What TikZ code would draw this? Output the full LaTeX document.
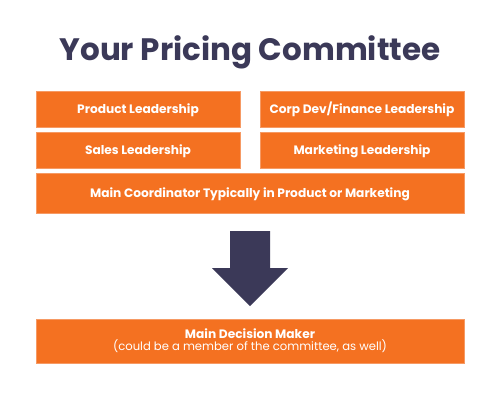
\documentclass[tikz,border=0pt]{standalone}
\usepackage{fontspec}
\setmainfont{Poppins}
\definecolor{orng}{HTML}{F47121}
\definecolor{orngline}{HTML}{F69A64}
\definecolor{navy}{HTML}{3B3958}
\begin{document}
\begin{tikzpicture}[x=1pt,y=-1pt,
  obox/.style={fill=orng,draw=orngline,line width=0.6pt,text=white,font=\fontsize{12.2}{14}\selectfont\bfseries},
  oline/.style={obox,text height=8.6pt,text depth=0pt}]
\useasboundingbox (0,0) rectangle (500,400);
\node[text=navy,font=\fontsize{31}{36}\selectfont\bfseries,text height=22pt,text depth=0pt] (title) at (250,49) {Your Pricing Committee};
\node[oline,minimum width=204pt,minimum height=36pt] (prod) at (138,109) {Product Leadership};
\node[oline,minimum width=204pt,minimum height=36pt] (corp) at (362,109) {Corp Dev/Finance Leadership};
\node[oline,minimum width=204pt,minimum height=36pt] (sales) at (138,150) {Sales Leadership};
\node[oline,minimum width=204pt,minimum height=36pt] (mkt) at (362,150) {Marketing Leadership};
\node[oline,minimum width=428pt,minimum height=40pt] (coord) at (250,193) {Main Coordinator Typically in Product or Marketing};
\coordinate (atop) at (250,231);
\coordinate (atip) at (250,306);
\fill[navy] (230,231) -- (270,231) -- (270,268) -- (288,268) -- (atip) -- (212,268) -- (230,268) -- cycle;
\node[obox,minimum width=428pt,minimum height=44pt,align=center,inner sep=0pt] (dec) at (250,341) {Main Decision Maker\\[-2pt]{\fontsize{11.6}{13}\selectfont\mdseries (could be a member of the committee, as well)}};
\end{tikzpicture}
\end{document}
